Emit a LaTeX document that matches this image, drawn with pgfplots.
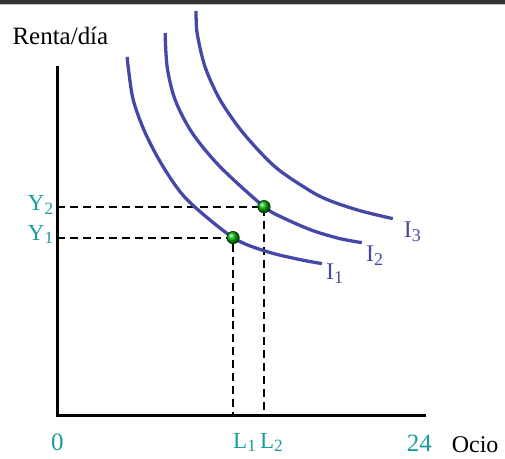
\documentclass[border=0pt]{standalone}
\usepackage{pgfplots}
\pgfplotsset{compat=1.18}
\usepackage{fontspec}
\setmainfont{Liberation Serif}
\definecolor{curva}{RGB}{70,72,168}
\definecolor{teal2}{RGB}{26,156,156}
\newcommand{\sub}[1]{\raisebox{-0.32ex}{\scalebox{0.75}{#1}}}

\begin{document}
\begin{tikzpicture}
\begin{axis}[scale only axis, width=505pt, height=459pt,
  xmin=-57, xmax=448, ymin=-43, ymax=416,
  hide axis, clip=false]
% marco
\path (axis cs:-57,-43) rectangle (axis cs:448,416);
\fill[black!80] (axis cs:-57,412.3) rectangle (axis cs:448,416);
\draw[black!25,line width=0.8pt] (axis cs:-57,411.8) -- (axis cs:448,411.8);
% ejes
\addplot[black,line width=3.4pt] coordinates {(0,350) (0,0) (369,0)};
% líneas de referencia
\addplot[black,line width=2pt,dash pattern=on 8pt off 5pt] coordinates {(0,209) (207,209) (207,0)};
\addplot[black,line width=2pt,dash pattern=on 8pt off 5pt] coordinates {(0,178) (176,178) (176,0)};
% curvas de indiferencia
\addplot[curva,line width=3.3pt,smooth] coordinates
 {(70,359) (71,349) (76,316) (88,283) (106,249) (130,216) (176,178) (210,164)
  (243,156) (265,152)};
\addplot[curva,line width=3.3pt,smooth] coordinates
 {(108,383) (110,349) (118,316) (135,283) (163,249) (207,209) (228,197)
  (256,185) (283,177) (305,173)};
\addplot[curva,line width=3.3pt,smooth] coordinates
 {(139,405) (140,383) (148,349) (163,316) (186,283) (218,249) (253,225)
  (273,215) (303,205) (336,197)};
% puntos de equilibrio
\addplot[only marks,mark=ball,mark size=6.3pt,ball color=green!70!black] coordinates
 {(176,178) (207,209)};
% textos
\node[anchor=base west,inner sep=0pt,font=\fontsize{25}{28}\selectfont] at (axis cs:-45,371) {Renta/día};
\node[anchor=base east,inner sep=0pt,teal2,font=\fontsize{23}{26}\selectfont] at (axis cs:-4,205) {Y\sub{2}};
\node[anchor=base east,inner sep=0pt,teal2,font=\fontsize{23}{26}\selectfont] at (axis cs:-4,175) {Y\sub{1}};
\node[anchor=base,inner sep=0pt,teal2,font=\fontsize{25}{28}\selectfont] at (axis cs:0,-35) {0};
\node[anchor=base west,inner sep=0pt,teal2,font=\fontsize{23}{26}\selectfont] at (axis cs:176,-33) {L\sub{1}};
\node[anchor=base west,inner sep=0pt,teal2,font=\fontsize{23}{26}\selectfont] at (axis cs:203,-33) {L\sub{2}};
\node[anchor=base west,inner sep=0pt,teal2,font=\fontsize{25}{28}\selectfont] at (axis cs:350,-36) {24};
\node[anchor=base west,inner sep=0pt,font=\fontsize{24}{27}\selectfont] at (axis cs:395,-37) {Ocio};
\node[anchor=base west,inner sep=0pt,curva,font=\fontsize{24}{27}\selectfont] at (axis cs:269,136) {I\sub{1}};
\node[anchor=base west,inner sep=0pt,curva,font=\fontsize{24}{27}\selectfont] at (axis cs:309,154) {I\sub{2}};
\node[anchor=base west,inner sep=0pt,curva,font=\fontsize{24}{27}\selectfont] at (axis cs:347,178) {I\sub{3}};
\end{axis}
\end{tikzpicture}
\end{document}
